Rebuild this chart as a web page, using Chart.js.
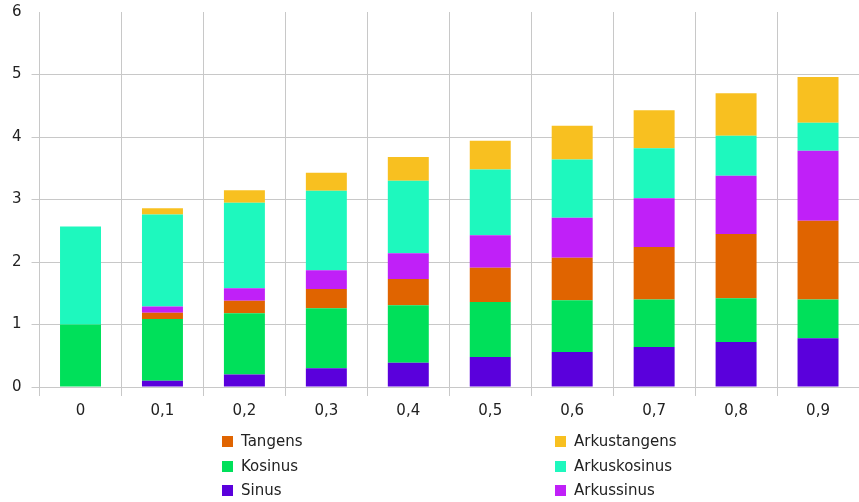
<!DOCTYPE html>
<html lang="fi">
<head>
  <meta charset="UTF-8">
  <title>Trigonometriset funktiot</title>
  <script src="https://cdn.jsdelivr.net/npm/chart.js@4/dist/chart.umd.min.js"></script>
  <style>
    html, body { margin: 0; padding: 0; background: #fff; }
    #wrap { position: relative; width: 859px; height: 502px; }
    #legend { position: absolute; left: 0; top: 0; width: 859px; height: 502px; pointer-events: none;
      font-family: "DejaVu Sans", sans-serif; font-size: 15px; color: #222; }
    .item { position: absolute; display: flex; align-items: center; white-space: nowrap; }
    .box { width: 11px; height: 11px; margin-right: 8px; }
  </style>
</head>
<body>
<div id="wrap">
  <canvas id="myChart" width="859" height="502"></canvas>
  <div id="legend"></div>
</div>
<script>
// x-akselin arvot
const labels = ['0', '0,1', '0,2', '0,3', '0,4', '0,5', '0,6', '0,7', '0,8', '0,9'];

// sarjat alhaalta ylös
const sinus        = [0, 0.10, 0.20, 0.30, 0.39, 0.48, 0.56, 0.64, 0.72, 0.78];
const kosinus      = [1, 0.99, 0.98, 0.96, 0.92, 0.88, 0.83, 0.76, 0.70, 0.62];
const tangens      = [0, 0.10, 0.20, 0.31, 0.42, 0.55, 0.68, 0.84, 1.03, 1.26];
const arkussinus   = [0, 0.10, 0.20, 0.30, 0.41, 0.52, 0.64, 0.78, 0.93, 1.12];
const arkuskosinus = [1.57, 1.47, 1.37, 1.27, 1.16, 1.05, 0.93, 0.80, 0.64, 0.45];
const arkustangens = [0, 0.10, 0.20, 0.29, 0.38, 0.46, 0.54, 0.61, 0.68, 0.73];

const yTicks = [0, 1, 2, 3, 4, 5, 6];

const sets = [
  { label: 'Sinus', data: sinus, color: '#5a00dc' },
  { label: 'Kosinus', data: kosinus, color: '#00e05a' },
  { label: 'Tangens', data: tangens, color: '#e06400' },
  { label: 'Arkussinus', data: arkussinus, color: '#c020f8' },
  { label: 'Arkuskosinus', data: arkuskosinus, color: '#1ef8be' },
  { label: 'Arkustangens', data: arkustangens, color: '#f8c020' }
];

Chart.defaults.font.family = '"DejaVu Sans", sans-serif';
Chart.defaults.font.size = 15;
Chart.defaults.color = '#222';

const ctx = document.getElementById('myChart').getContext('2d');
const myChart = new Chart(ctx, {
  type: 'bar',
  data: {
    labels: labels,
    datasets: sets.map(s => ({
      label: s.label,
      data: s.data,
      backgroundColor: s.color,
      borderWidth: 0,
      categoryPercentage: 1,
      barPercentage: 0.5
    }))
  },
  options: {
    responsive: false,
    animation: false,
    layout: { padding: { left: 2, top: 12, right: 0, bottom: 76 } },
    plugins: { legend: { display: false }, tooltip: { enabled: false } },
    scales: {
      x: {
        stacked: true,
        grid: { color: '#c8c8c8', tickLength: 9, offset: true },
        border: { color: '#c8c8c8' },
        ticks: { padding: 6 }
      },
      y: {
        stacked: true,
        min: 0,
        max: 6,
        afterBuildTicks: axis => { axis.ticks = yTicks.map(v => ({ value: v })); },
        afterFit: axis => { axis.paddingTop = 0; },
        grid: {
          color: c => (c.tick && c.tick.value === 6) ? 'rgba(0,0,0,0)' : '#c8c8c8',
          tickLength: 8
        },
        border: { display: false },
        ticks: { padding: 10 }
      }
    }
  }
});

// legenda kahdessa sarakkeessa
const legendPos = [
  { i: 2, x: 222, y: 441 }, { i: 1, x: 222, y: 466 }, { i: 0, x: 222, y: 490 },
  { i: 5, x: 555, y: 441 }, { i: 4, x: 555, y: 466 }, { i: 3, x: 555, y: 490 }
];
const leg = document.getElementById('legend');
legendPos.forEach(p => {
  const el = document.createElement('div');
  el.className = 'item';
  el.style.left = p.x + 'px';
  el.style.top = (p.y - 10) + 'px';
  el.style.height = '20px';
  el.innerHTML = '<span class="box" style="background:' + sets[p.i].color + '"></span>' + sets[p.i].label;
  leg.appendChild(el);
});
</script>
</body>
</html>
